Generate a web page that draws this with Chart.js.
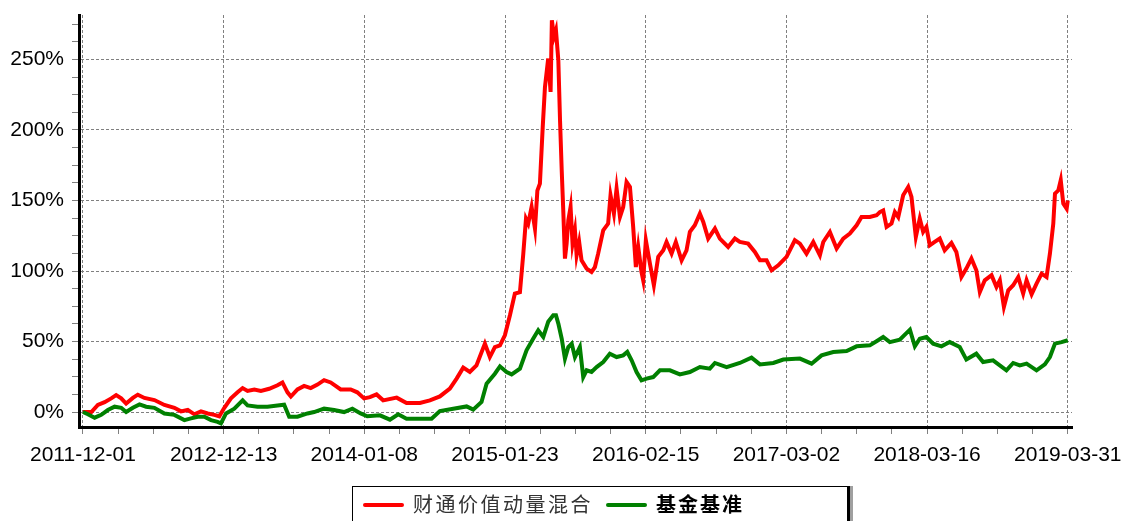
<!DOCTYPE html>
<html>
<head>
<meta charset="utf-8">
<script src="https://cdn.jsdelivr.net/npm/chart.js@4.4.1/dist/chart.umd.min.js"></script>
<style>
  html, body { margin: 0; padding: 0; background: #fff; }
  #wrap { position: relative; width: 1122px; height: 521px; overflow: hidden; }
  #chart { position: absolute; left: 0; top: 0; }
  #legend {
    position: absolute; left: 352px; top: 486px; width: 494px; height: 44px;
    border: 1px solid #000; border-right: 3px solid #000;
    box-shadow: 3px 0 0 #a0a0a0; background: #fff;
    font-family: "Noto Sans CJK SC", "Noto Sans", sans-serif;
  }
  .sw { position: absolute; top: 16px; width: 41px; height: 4px; border-radius: 2px; }
  .tx { position: absolute; top: 0px; height: 34px; line-height: 34px; font-size: 20px; white-space: nowrap; }
</style>
</head>
<body>
<div id="wrap">
  <canvas id="chart" width="1122" height="521"></canvas>
  <div id="legend">
    <div class="sw" style="left:10px;background:#ff0000"></div>
    <div class="tx" style="left:60px;letter-spacing:2.5px;color:#333;">财通价值动量混合</div>
    <div class="sw" style="left:253px;background:#008000"></div>
    <div class="tx" style="left:303px;letter-spacing:2px;font-weight:bold;color:#000;">基金基准</div>
  </div>
</div>
<script>
// x positions are in units of one label interval (0 = 2011-12-01 ... 7 = 2019-03-31)
const dateLabels = ['2011-12-01','2012-12-13','2014-01-08','2015-01-23','2016-02-15','2017-03-02','2018-03-16','2019-03-31'];

const redX = [0,0.06,0.106,0.154,0.201,0.236,0.272,0.307,0.355,0.39,0.437,0.508,0.579,0.65,0.697,0.745,0.792,0.839,0.887,0.934,0.969,1.005,1.052,1.099,1.135,1.17,1.218,1.265,1.324,1.383,1.418,1.454,1.478,1.525,1.572,1.619,1.667,1.714,1.761,1.832,1.903,1.95,1.998,2.04,2.087,2.134,2.23,2.3,2.395,2.466,2.537,2.608,2.656,2.703,2.75,2.797,2.857,2.892,2.928,2.964,2.999,3.035,3.07,3.106,3.13,3.149,3.165,3.189,3.213,3.23,3.248,3.268,3.284,3.307,3.324,3.333,3.348,3.362,3.379,3.391,3.403,3.414,3.426,3.438,3.45,3.466,3.48,3.497,3.509,3.527,3.544,3.58,3.615,3.639,3.662,3.698,3.733,3.75,3.774,3.793,3.817,3.84,3.864,3.888,3.911,3.93,3.947,3.97,3.982,4.001,4.03,4.058,4.089,4.125,4.148,4.184,4.214,4.255,4.29,4.314,4.349,4.385,4.409,4.444,4.492,4.527,4.586,4.634,4.669,4.728,4.776,4.812,4.859,4.895,4.942,5.001,5.06,5.096,5.143,5.191,5.238,5.262,5.309,5.357,5.404,5.451,5.499,5.534,5.593,5.641,5.664,5.688,5.712,5.747,5.771,5.795,5.83,5.866,5.889,5.92,5.948,5.972,5.995,6.019,6.054,6.09,6.125,6.173,6.208,6.244,6.279,6.315,6.35,6.375,6.41,6.458,6.493,6.517,6.546,6.577,6.612,6.648,6.683,6.707,6.743,6.778,6.814,6.849,6.873,6.897,6.909,6.933,6.95,6.968,6.992,7.0];
const redY = [0,0,5,7,9.7,12,9.7,6,10,12.3,10,8.5,5,3,0.5,1.5,-1.6,0.5,-1,-2,-3,3,9.7,14,17,15,16,15,16.5,19,21,14,11,16,18.5,17,19.5,22.6,21,16,16,14,9.7,10.6,12.5,8.3,10.2,6.4,6.4,8.3,11.1,16.6,23.7,31.5,28.4,33.1,48.5,39,46,47.3,54.4,68.6,84,85,112.3,137,133.6,145.4,130,157,162,202,230.5,250.6,227,277.8,266,270.7,249.4,206.9,171.4,143,108.8,119.4,136,145.4,119.4,128.9,111.1,120.6,107.6,101.7,99.3,102.8,112.3,128.9,133.6,153.7,140.7,158.4,138.3,145.4,163.1,159.6,131.2,102.8,117,99.3,93.4,121.8,105.2,89.9,110,114.7,120.6,112.3,120.6,107.6,114.7,127.7,132.4,140.7,134.8,123,130.1,123,117,123,120.6,119.4,113.5,107.6,107.6,100.5,104,110,121.8,119.4,112.3,120.6,111.1,120.6,127.7,115.9,123,126.5,132.4,138.3,138.3,139.5,141.8,143,131.2,133.6,141.8,138.3,153.7,159.6,152.5,124.1,137.2,127.7,131.2,118.2,120.6,123,114.7,119.9,113.5,95.7,101.7,108.8,100.5,85.1,93.4,97,88.7,93.4,74.5,86.3,89.9,95.7,84,93.4,83.5,91,98.1,95.7,112.3,133.6,154.9,157.2,164.3,147.8,144.2,150];

const greenX = [0,0.035,0.083,0.13,0.177,0.225,0.272,0.307,0.355,0.402,0.449,0.508,0.579,0.65,0.721,0.768,0.816,0.863,0.91,0.957,0.981,1.017,1.076,1.135,1.17,1.241,1.312,1.383,1.43,1.466,1.525,1.596,1.643,1.714,1.785,1.856,1.915,1.974,2.021,2.111,2.182,2.241,2.3,2.395,2.478,2.537,2.632,2.727,2.774,2.833,2.869,2.928,2.964,3.011,3.047,3.106,3.153,3.2,3.236,3.272,3.307,3.343,3.362,3.379,3.403,3.426,3.45,3.474,3.497,3.532,3.556,3.58,3.615,3.651,3.698,3.745,3.793,3.84,3.869,3.9,3.935,3.97,4.006,4.053,4.101,4.172,4.243,4.314,4.385,4.456,4.492,4.575,4.669,4.752,4.812,4.907,4.978,5.096,5.179,5.25,5.333,5.428,5.499,5.593,5.652,5.688,5.735,5.806,5.878,5.913,5.948,5.995,6.043,6.102,6.161,6.232,6.279,6.35,6.398,6.469,6.564,6.612,6.659,6.707,6.778,6.837,6.873,6.909,6.956,7.0];
const greenY = [0,-1.6,-4,-2,1.4,3.8,3,0,3,5.4,3.8,3,-1,-2,-5.7,-4.5,-3.3,-3.3,-5.7,-7,-8,-1,2.4,8.3,4.7,3.8,3.8,4.7,5.2,-3.3,-3.3,-1,0,2.4,1.4,0,2.4,-1,-3,-2.3,-5.4,-1.6,-4.7,-4.7,-4.7,0.7,2.4,4,1.7,7.1,20.1,27.2,32.4,28.4,26.7,30.8,43.8,52,58,53.2,64,68.6,68.6,62.7,52,37.9,46.1,48.5,39,46.1,24.8,29.6,28.4,31.9,35.5,41.4,39,40.2,42.6,36.7,28.4,22.5,23.7,24.8,29.6,29.6,26.7,28.4,31.9,30.8,34.8,31.9,34.8,38.6,33.8,34.8,37.2,37.9,34.3,40.2,42.6,43.3,46.6,47.3,50.9,53.2,49.6,51.3,58.4,46.6,52,53.2,48.5,46.6,49.6,46.1,37.2,41.4,35.5,36.7,29.6,34.8,33.1,34.3,29.6,33.8,39,48.5,49.6,50.9];

const redName = '财通价值动量混合';
const greenName = '基金基准';
const yMinorStep = 12.5;
const yMajorStep = 50;

const toPoints = (xs, ys) => xs.map((x, i) => ({ x: x, y: ys[i] }));
const isMult = (v, s) => Math.abs(v / s - Math.round(v / s)) < 1e-6;
const tickFont = { family: '"Liberation Sans", Arial, sans-serif', size: 21 };
const gridGray = '#808080';

new Chart(document.getElementById('chart').getContext('2d'), {
  type: 'scatter',
  data: {
    datasets: [
      { label: greenName, data: toPoints(greenX, greenY), showLine: true, borderColor: '#008000', backgroundColor: '#008000',
        borderWidth: 4, pointRadius: 0, tension: 0, order: 1 },
      { label: redName, data: toPoints(redX, redY), showLine: true, borderColor: '#ff0000', backgroundColor: '#ff0000',
        borderWidth: 4, pointRadius: 0, tension: 0, order: 2 }
    ]
  },
  options: {
    responsive: false,
    animation: false,
    layout: { padding: { top: 15, right: 50, bottom: 0, left: 0 } },
    plugins: { legend: { display: false }, tooltip: { enabled: false } },
    scales: {
      x: {
        type: 'linear', min: -0.028, max: 7.03,
        afterFit(s) { s.height = 521 - 427; s.paddingLeft = 0; s.paddingRight = 0; },
        ticks: {
          stepSize: 0.25, autoSkip: false, maxRotation: 0, minRotation: 0, includeBounds: false,
          padding: 9, color: '#000', font: tickFont,
          callback(v) { const i = Math.round(v); return (isMult(v, 1) && dateLabels[i]) ? dateLabels[i] : ''; }
        },
        grid: {
          color(c) { return (c.tick && isMult(c.tick.value, 1)) ? gridGray : 'rgba(0,0,0,0)'; },
          tickColor: gridGray, tickLength: 7, lineWidth: 1
        },
        border: { display: true, color: '#000', width: 3, dash: [3, 2] }
      },
      y: {
        type: 'linear', min: -10.6, max: 281.5,
        afterFit(s) { s.width = 79; s.paddingTop = 0; s.paddingBottom = 0; },
        ticks: {
          stepSize: yMinorStep, autoSkip: false, includeBounds: false,
          padding: 8, color: '#000', font: tickFont,
          callback(v) { return isMult(v, yMajorStep) ? v + '%' : ''; }
        },
        grid: {
          color(c) { return (c.tick && isMult(c.tick.value, yMajorStep)) ? gridGray : 'rgba(0,0,0,0)'; },
          tickColor: gridGray, tickLength: 7, lineWidth: 1
        },
        border: { display: true, color: '#000', width: 3, dash: [3, 2] }
      }
    }
  }
});
</script>
</body>
</html>
